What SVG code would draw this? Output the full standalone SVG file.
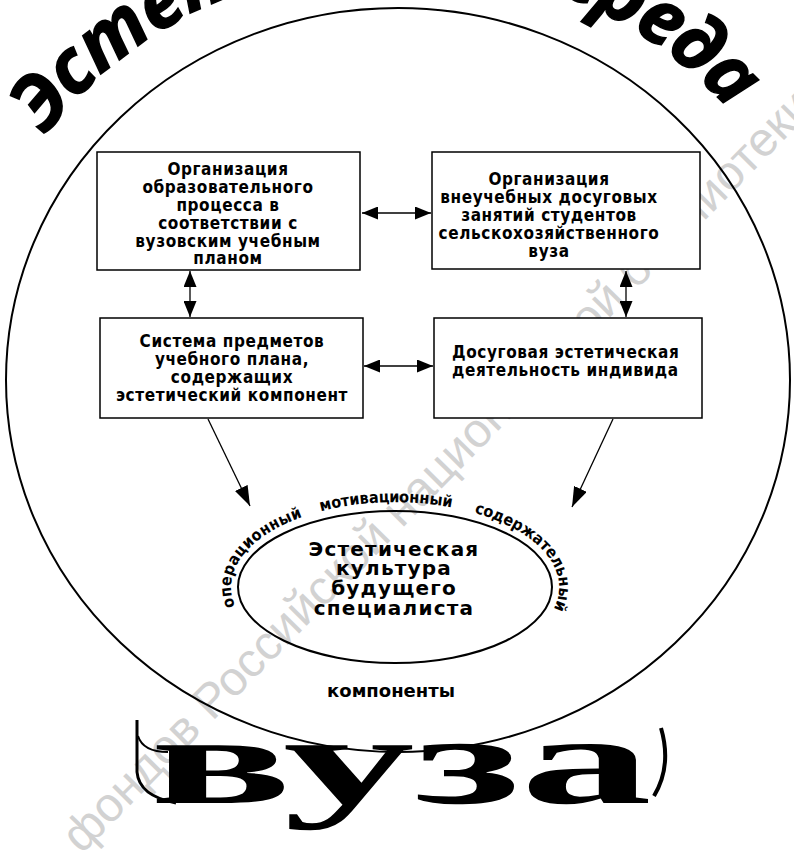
<svg xmlns="http://www.w3.org/2000/svg" xmlns:xlink="http://www.w3.org/1999/xlink" width="794" height="850" viewBox="0 0 794 850">
<style>
.box{fill:#fff;stroke:#000;stroke-width:1.5}
.bt{font-family:"DejaVu Sans Condensed","DejaVu Sans",sans-serif;font-stretch:condensed;font-weight:bold;font-size:17px;letter-spacing:0.6px;fill:#000}
.con{stroke:#000;stroke-width:1.3;fill:none}
.lbl{font-family:"DejaVu Sans Condensed","DejaVu Sans",sans-serif;font-stretch:condensed;font-weight:bold;font-size:16px;fill:#000}
.ctr{font-family:"DejaVu Sans",sans-serif;font-weight:bold;font-size:20px;letter-spacing:1.2px;fill:#000}
.wm{font-family:"Liberation Sans",Arial,sans-serif;font-size:48px;fill:#d2d2d2}
.title{font-family:"Noto Sans","Liberation Sans",sans-serif;font-weight:bold;font-style:italic;font-size:76px;fill:#000;stroke:#000;stroke-width:1.5}
</style>
<defs>
<marker id="ah" markerUnits="userSpaceOnUse" markerWidth="16" markerHeight="13" refX="16" refY="6.5" orient="auto-start-reverse">
<path d="M0,0 L16,6.5 L0,13 z" fill="#000"/>
</marker>
<marker id="ad" markerUnits="userSpaceOnUse" markerWidth="20" markerHeight="14" refX="20" refY="7" orient="auto">
<path d="M0,0 L20,7 L0,14 z" fill="#000"/>
</marker>
<path id="titlePath" d="M-38,380 A436,416 0 0 1 834,380"/>
<path id="ringPath" d="M236,608 A164,85 0 1 1 554,608"/>
</defs>
<rect width="794" height="850" fill="#fff"/>

<g id="watermark">
<text class="wm" transform="translate(212,722) rotate(-45.5)" x="-186" y="0">фондов Российской национальной библиотеки</text>
</g>

<g id="environment">
<ellipse cx="398" cy="380" rx="392" ry="372" fill="none" stroke="#000" stroke-width="2"/>
<text class="title"><textPath xlink:href="#titlePath" href="#titlePath" startOffset="262" textLength="780" lengthAdjust="spacing">Эстетическая среда</textPath></text>
</g>

<g id="connectors">
<line class="con" x1="362" y1="213" x2="431" y2="213" marker-start="url(#ah)" marker-end="url(#ah)"/>
<line class="con" x1="364" y1="366" x2="433" y2="366" marker-start="url(#ah)" marker-end="url(#ah)"/>
<line class="con" x1="190" y1="271" x2="190" y2="317" marker-start="url(#ah)" marker-end="url(#ah)"/>
<line class="con" x1="626" y1="271" x2="626" y2="317" marker-start="url(#ah)" marker-end="url(#ah)"/>
<line class="con" x1="208" y1="419" x2="250" y2="506" marker-end="url(#ad)"/>
<line class="con" x1="613" y1="419" x2="572" y2="507" marker-end="url(#ad)"/>
</g>

<g id="box1">
<rect class="box" x="97" y="152" width="263" height="118"/>
<text class="bt" text-anchor="middle"><tspan x="228" y="175">Организация</tspan><tspan x="228" y="193">образовательного</tspan><tspan x="228" y="211">процесса в</tspan><tspan x="228" y="229">соответствии с</tspan><tspan x="228" y="247">вузовским учебным</tspan><tspan x="228" y="264">планом</tspan></text>
</g>

<g id="box2">
<rect class="box" x="432" y="152" width="268" height="117"/>
<text class="bt" text-anchor="middle"><tspan x="549" y="185">Организация</tspan><tspan x="549" y="203">внеучебных досуговых</tspan><tspan x="549" y="221">занятий студентов</tspan><tspan x="549" y="239">сельскохозяйственного</tspan><tspan x="549" y="257">вуза</tspan></text>
</g>

<g id="box3">
<rect class="box" x="100" y="318" width="263" height="100"/>
<text class="bt" text-anchor="middle"><tspan x="232" y="347">Система предметов</tspan><tspan x="232" y="365">учебного плана,</tspan><tspan x="232" y="383">содержащих</tspan><tspan x="232" y="401">эстетический компонент</tspan></text>
</g>

<g id="box4">
<rect class="box" x="434" y="318" width="268" height="100"/>
<text class="bt"><tspan x="452" y="358">Досуговая эстетическая</tspan><tspan x="452" y="376">деятельность индивида</tspan></text>
</g>

<g id="culture">
<ellipse cx="395" cy="587" rx="157" ry="76" fill="none" stroke="#000" stroke-width="2"/>
<text class="ctr" text-anchor="middle"><tspan x="394" y="556">Эстетическая</tspan><tspan x="394" y="575">культура</tspan><tspan x="394" y="595">будущего</tspan><tspan x="394" y="615">специалиста</tspan></text>
<text class="lbl"><textPath xlink:href="#ringPath" href="#ringPath" startOffset="2" textLength="126" lengthAdjust="spacing">операционный</textPath></text>
<text class="lbl"><textPath xlink:href="#ringPath" href="#ringPath" startOffset="147" textLength="132" lengthAdjust="spacing">мотивационный</textPath></text>
<text class="lbl"><textPath xlink:href="#ringPath" href="#ringPath" startOffset="302" textLength="143" lengthAdjust="spacing">содержательный</textPath></text>
<text class="ctr" text-anchor="middle" x="391" y="697" style="font-size:18px;letter-spacing:0">компоненты</text>
</g>

<g id="vuza">
<path d="M137,720 L137,772 Q139,796 176,803" fill="none" stroke="#000" stroke-width="3"/>
<path d="M138,736 Q143,752 168,752" fill="none" stroke="#000" stroke-width="2"/>
<path d="M661,728 C668,752 666,776 654,796" fill="none" stroke="#000" stroke-width="4"/>
<text x="150" y="803" font-family="'Liberation Serif','Times New Roman',serif" font-weight="bold" font-size="126" textLength="502" lengthAdjust="spacingAndGlyphs" fill="#000">вуза</text>
</g>
</svg>
